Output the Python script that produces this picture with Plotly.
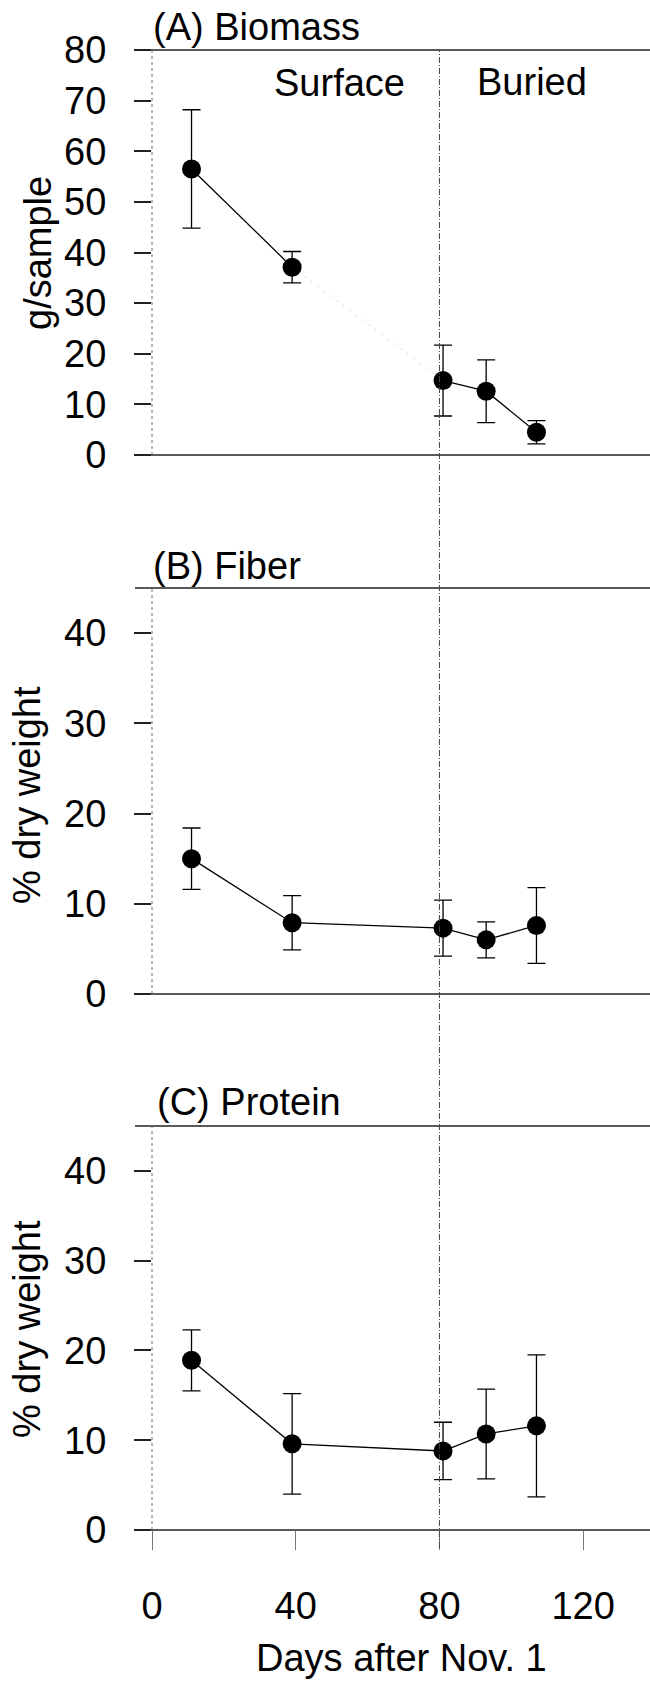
import plotly.graph_objects as go

# ---- data -------------------------------------------------------------
days = [11, 39, 81, 93, 107]

biomass = [56.5, 37.1, 14.7, 12.6, 4.5]
biomass_err = [11.7, 3.1, 7.0, 6.2, 2.3]

fiber = [15.0, 7.9, 7.3, 6.0, 7.6]
fiber_err = [3.4, 3.0, 3.1, 2.0, 4.2]

protein = [18.9, 9.6, 8.8, 10.7, 11.6]
protein_err = [3.4, 5.6, 3.2, 5.0, 7.9]

x_ticks = [0, 40, 80, 120]
biomass_ticks = [0, 10, 20, 30, 40, 50, 60, 70, 80]
pct_ticks = [0, 10, 20, 30, 40]

panel_titles = ["(A) Biomass", "(B) Fiber", "(C) Protein"]
y_titles = ["g/sample", "% dry weight", "% dry weight"]
x_title = "Days after Nov. 1"
burial_day = 80

# ---- page geometry (pixels) -------------------------------------------
W, H = 650, 1682
L, R = 152, 650
TOP, BOTTOM = 50, 1530
PH = BOTTOM - TOP
FONT = "Arial, Liberation Sans, sans-serif"
FS = 38


def py(v):
    return (BOTTOM - v) / PH


def px(v):
    return (v - L) / (R - L)


# panel pixel bounds (top, bottom)
panels = [(50, 455), (588, 994), (1126, 1530)]

fig = go.Figure()

marker = dict(color="black", size=19)
line = dict(color="black", width=1.3)


def err(vals):
    return dict(type="data", array=vals, visible=True, color="black",
                thickness=1.3, width=9)


# Panel A: surface and buried series drawn separately, joined by a faint dotted link
fig.add_trace(go.Scatter(x=days[1:3], y=biomass[1:3], mode="lines",
                         line=dict(color="#b0b0b0", width=1, dash="1px,7px"),
                         xaxis="x", yaxis="y", showlegend=False))
fig.add_trace(go.Scatter(x=days[:2], y=biomass[:2], mode="lines+markers",
                         marker=marker, line=line, error_y=err(biomass_err[:2]),
                         xaxis="x", yaxis="y", showlegend=False))
fig.add_trace(go.Scatter(x=days[2:], y=biomass[2:], mode="lines+markers",
                         marker=marker, line=line, error_y=err(biomass_err[2:]),
                         xaxis="x", yaxis="y", showlegend=False))

# Panel B and C
fig.add_trace(go.Scatter(x=days, y=fiber, mode="lines+markers",
                         marker=marker, line=line, error_y=err(fiber_err),
                         xaxis="x2", yaxis="y2", showlegend=False))
fig.add_trace(go.Scatter(x=days, y=protein, mode="lines+markers",
                         marker=marker, line=line, error_y=err(protein_err),
                         xaxis="x3", yaxis="y3", showlegend=False))

x_range = [0, 138.6]
hidden_x = dict(range=x_range, showticklabels=False, ticks="", showgrid=False,
                zeroline=False, showline=False)

y_common = dict(ticks="outside", ticklen=17, tickwidth=1.5, tickcolor="#222",
                showgrid=False, zeroline=False, showline=False,
                tickfont=dict(family=FONT, size=FS, color="black"),
                ticklabelstandoff=20)

fig.update_layout(
    width=W, height=H, autosize=False,
    margin=dict(l=L, r=W - R, t=TOP, b=H - BOTTOM),
    paper_bgcolor="white", plot_bgcolor="white",
    font=dict(family=FONT, size=FS, color="black"),
    xaxis=dict(domain=[0, 1], anchor="y", **hidden_x),
    xaxis2=dict(domain=[0, 1], anchor="y2", **hidden_x),
    xaxis3=dict(domain=[0, 1], anchor="y3", range=x_range, tickvals=x_ticks,
                ticks="outside", ticklen=19, tickwidth=1, tickcolor="#777",
                showgrid=False, zeroline=False, showline=False,
                tickfont=dict(family=FONT, size=FS, color="black"),
                ticklabelstandoff=23),
    yaxis=dict(domain=[py(panels[0][1]), py(panels[0][0])], anchor="x",
               range=[0, 80], tickvals=biomass_ticks, **y_common),
    yaxis2=dict(domain=[py(panels[1][1]), py(panels[1][0])], anchor="x2",
                range=[0, 45], tickvals=pct_ticks, **y_common),
    yaxis3=dict(domain=[py(panels[2][1]), py(panels[2][0])], anchor="x3",
                range=[0, 45], tickvals=pct_ticks, **y_common),
)

shapes = []
for top, bot in panels:
    for yv in (top, bot):
        shapes.append(dict(type="line", xref="paper", yref="paper",
                           x0=px(135), x1=1, y0=py(yv), y1=py(yv),
                           line=dict(color="#222", width=1.6)))
    shapes.append(dict(type="line", xref="paper", yref="paper",
                       x0=0, x1=0, y0=py(bot), y1=py(top),
                       line=dict(color="#777", width=1, dash="dot")))

# divider between surface and buried samples, spanning all panels
shapes.append(dict(type="line", xref="x3", yref="paper",
                   x0=burial_day, x1=burial_day, y0=py(1548), y1=py(50),
                   line=dict(color="#444", width=1, dash="6px,2px,1px,2px")))
fig.update_layout(shapes=shapes)

ann = []
title_pos = [(151, 27), (151, 566), (155, 1102)]
for text, (tx, ty) in zip(panel_titles, title_pos):
    ann.append(dict(text=text, xref="paper", yref="paper", x=px(tx), y=py(ty),
                    xanchor="left", yanchor="middle", showarrow=False,
                    font=dict(family=FONT, size=FS)))

ylab_pos = [(38, 253), (27, 795), (27, 1329)]
for text, (tx, ty) in zip(y_titles, ylab_pos):
    ann.append(dict(text=text, xref="paper", yref="paper", x=px(tx), y=py(ty),
                    xanchor="center", yanchor="middle", textangle=-90,
                    showarrow=False, font=dict(family=FONT, size=FS)))

ann.append(dict(text="Surface", xref="paper", yref="paper", x=px(339), y=py(83),
                xanchor="center", yanchor="middle", showarrow=False,
                font=dict(family=FONT, size=FS)))
ann.append(dict(text="Buried", xref="paper", yref="paper", x=px(532), y=py(82),
                xanchor="center", yanchor="middle", showarrow=False,
                font=dict(family=FONT, size=FS)))
ann.append(dict(text=x_title, xref="paper", yref="paper", x=px(401), y=py(1658),
                xanchor="center", yanchor="middle", showarrow=False,
                font=dict(family=FONT, size=FS)))
fig.update_layout(annotations=ann)

fig.write_html("out.html")
